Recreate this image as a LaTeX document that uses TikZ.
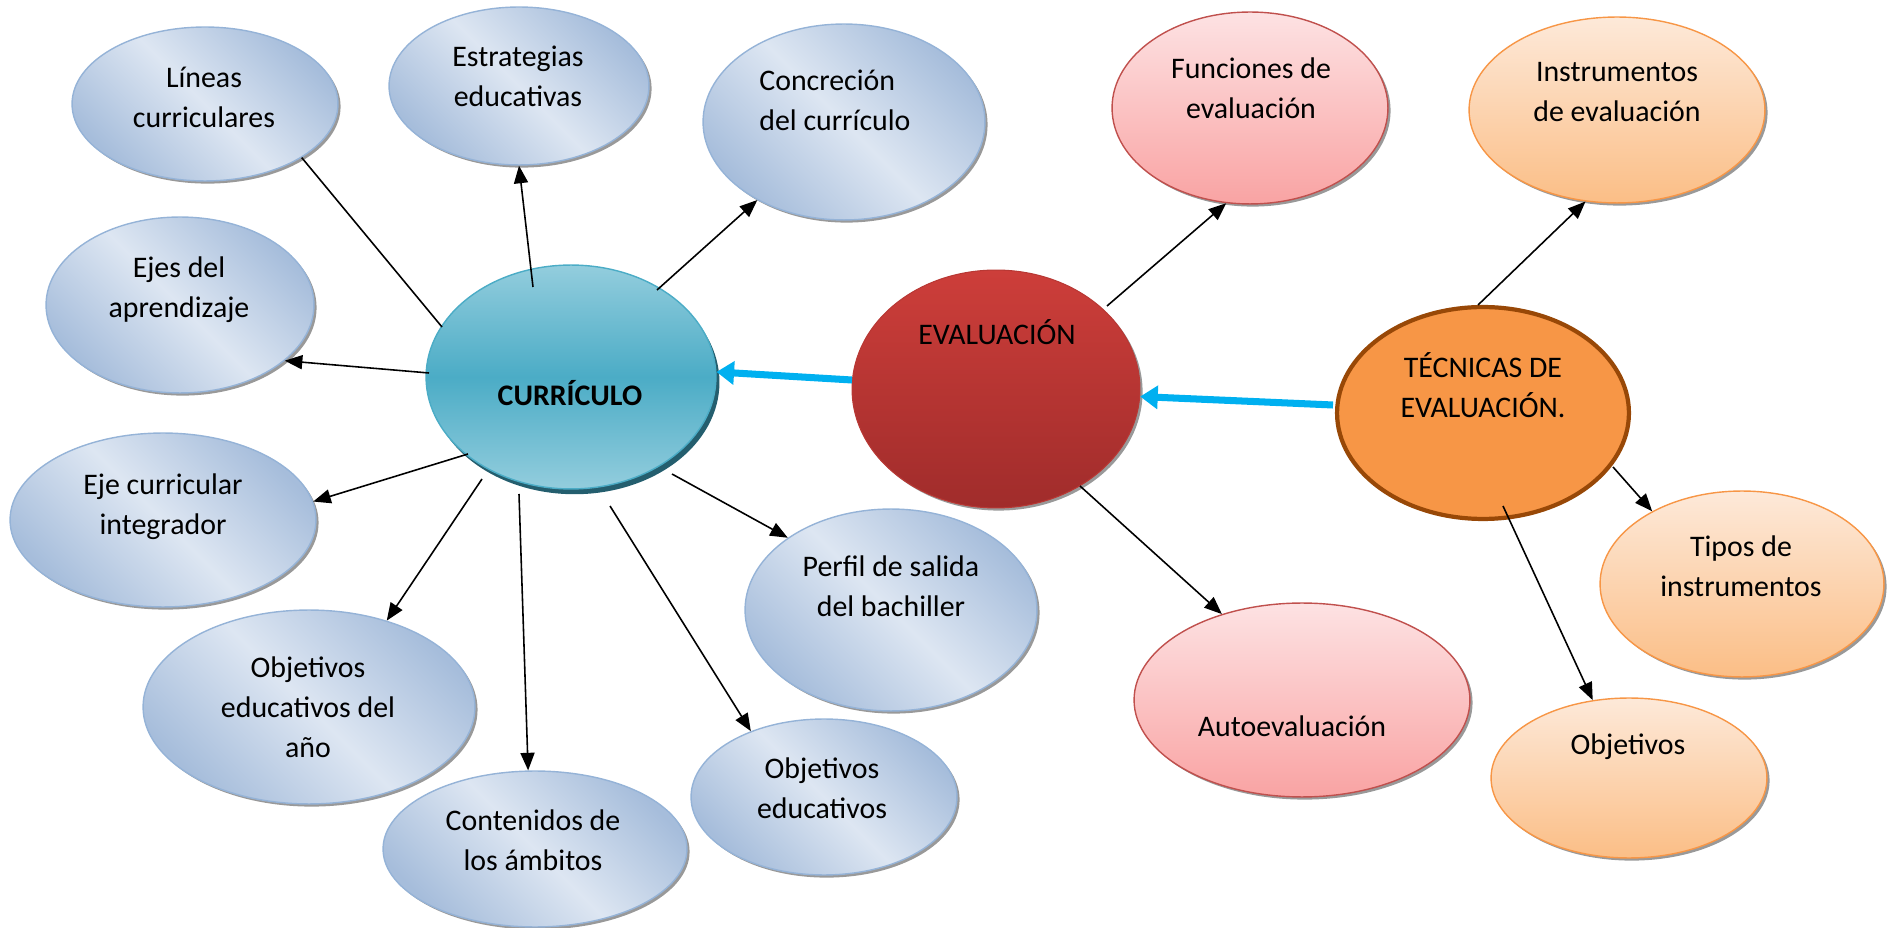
\documentclass[tikz,border=0pt]{standalone}
\usepackage{fontspec}
\setmainfont{Carlito}
\usepackage{tikz}
\usetikzlibrary{shapes.geometric, arrows.meta, shadows, positioning}
\definecolor{subblue}{RGB}{166,189,219}
\definecolor{sublight}{RGB}{221,230,242}
\definecolor{subline}{RGB}{149,179,215}
\definecolor{tealmid}{RGB}{75,172,198}
\definecolor{teallight}{RGB}{147,205,221}
\definecolor{tealshadow}{RGB}{36,94,110}
\definecolor{evared}{RGB}{205,62,58}
\definecolor{evadark}{RGB}{160,44,43}
\definecolor{tecorange}{RGB}{247,150,70}
\definecolor{tecbrown}{RGB}{152,72,7}
\definecolor{pinktop}{RGB}{253,226,227}
\definecolor{pinkbot}{RGB}{249,163,163}
\definecolor{pinkline}{RGB}{192,80,77}
\definecolor{peachtop}{RGB}{253,233,217}
\definecolor{peachbot}{RGB}{251,190,134}
\definecolor{arrowblue}{RGB}{0,176,240}

\begin{document}
\begin{tikzpicture}[x=0.02cm, y=-0.02cm,
  every node/.style={font=\fontsize{17}{22.7}\selectfont},
  rad/.style 2 args={ellipse, inner sep=0pt, minimum width=#1*0.04cm, minimum height=#2*0.04cm},
  dshadow/.style={drop shadow={shadow xshift=1.5pt, shadow yshift=-1.5pt, fill=gray, opacity=0.8}},
  subell/.style={draw=subline, line width=0.8pt, top color=subblue, bottom color=subblue, middle color=sublight, shading angle=-45, dshadow},
  curell/.style={draw=tealmid, line width=0.8pt, top color=teallight, bottom color=teallight, middle color=tealmid, drop shadow={shadow xshift=2pt, shadow yshift=-3pt, fill=tealshadow, opacity=1}},
  evaell/.style={draw=evared!90!black, line width=0.6pt, top color=evared, bottom color=evadark, dshadow},
  tecell/.style={draw=tecbrown, line width=2.4pt, fill=tecorange},
  pinkell/.style={draw=pinkline, line width=0.8pt, top color=pinktop, bottom color=pinkbot, dshadow},
  peachell/.style={draw=tecorange, line width=0.8pt, top color=peachtop, bottom color=peachbot, dshadow},
  txt/.style={align=center, inner sep=0pt},
  spoke/.style={line width=0.9pt},
  link/.style={spoke, -{Triangle[length=10pt, width=8pt]}},
  feed/.style={draw=arrowblue, line width=4pt, -{Triangle[length=10pt, width=13pt]}}
]
\useasboundingbox (0,0) rectangle (1887,928);

% Curriculo and its branches
\node[subell, rad={133}{77}] (lin) at (205,104) {};
\node[txt] (tlin) at (204,97) {Líneas\\curriculares};
\node[subell, rad={130}{79}] (est) at (519,86) {};
\node[txt] (test) at (518,76) {Estrategias\\educativas};
\node[subell, rad={141}{98}] (con) at (844,122) {};
\node[txt, align=left, anchor=west] (tcon) at (759,100) {Concreción\\del currículo};
\node[subell, rad={134}{88}] (eje) at (180,305) {};
\node[txt] (teje) at (179,290) {Ejes del\\aprendizaje};
\node[subell, rad={153}{87}] (int) at (163,520) {};
\node[txt] (tint) at (163,507) {Eje curricular\\integrador};
\node[subell, rad={166}{97}] (ano) at (309,707) {};
\node[txt] (tano) at (308,707) {Objetivos\\educativos del\\año};
\node[subell, rad={152}{78}] (cnt) at (535,849) {};
\node[txt] (tcnt) at (533,840) {Contenidos de\\los ámbitos};
\node[subell, rad={133}{78}] (obe) at (824,797) {};
\node[txt] (tobe) at (822,788) {Objetivos\\educativos};
\node[subell, rad={146}{101}] (per) at (891,610) {};
\node[txt] (tper) at (891,586) {Perfil de salida\\del bachiller};
\node[curell, rad={145}{112}] (cur) at (571,377) {};
\node[txt] (tcur) at (570,393) {\bfseries CURRÍCULO};

% Evaluacion
\node[evaell, rad={144}{119}] (eva) at (996,389) {};
\node[txt] (teva) at (997,332) {EVALUACIÓN};
\node[pinkell, rad={138}{96}] (fun) at (1250,108) {};
\node[txt] (tfun) at (1251,88) {Funciones de\\evaluación};
\node[pinkell, rad={168}{97}] (aut) at (1302,700) {};
\node[txt] (taut) at (1292,726) {Autoevaluación};

% Tecnicas
\node[tecell, rad={146}{106}] (tec) at (1483,413) {};
\node[txt] (ttec) at (1483,385) {TÉCNICAS DE\\EVALUACIÓN.};
\node[peachell, rad={148}{93}] (ins) at (1617,110) {};
\node[txt] (tins) at (1617,92) {Instrumentos\\de evaluación};
\node[peachell, rad={142}{93}] (tip) at (1742,584) {};
\node[txt] (ttip) at (1741,566) {Tipos de\\instrumentos};
\node[peachell, rad={138}{80}] (obj) at (1629,778) {};
\node[txt] (tobj) at (1628,747) {Objetivos};

% Connectors
\draw[spoke] ([shift={(-129,-50)}]cur.center) -- (lin.-29);
\draw[link] ([shift={(-38,-90)}]cur.center) -- (est.-90);
\draw[link] ([shift={(86,-87)}]cur.center) -- (con.-138);
\draw[link] ([shift={(-142,-4)}]cur.center) -- (eje.-28);
\draw[link] ([shift={(-103,77)}]cur.center) -- (int.7);
\draw[link] ([shift={(-89,102)}]cur.center) -- (ano.48);
\draw[link] ([shift={(-52,117)}]cur.center) -- (cnt.95);
\draw[link] ([shift={(39,129)}]cur.center) -- (obe.138);
\draw[link] ([shift={(101,97)}]cur.center) -- (per.145);
\draw[link] ([shift={(111,-83)}]eva.center) -- (fun.-104);
\draw[link] ([shift={(84,97)}]eva.center) -- (aut.133);
\draw[link] ([shift={(-5,-108)}]tec.center) -- (ins.-109);
\draw[link] ([shift={(130,54)}]tec.center) -- (tip.141);
\draw[link] ([shift={(20,93)}]tec.center) -- (obj.115);
\draw[feed] ([shift={(-144,-9)}]eva.center) -- (cur.2);
\draw[feed] ([shift={(-150,-8)}]tec.center) -- (eva.-3);
\end{tikzpicture}
\end{document}
